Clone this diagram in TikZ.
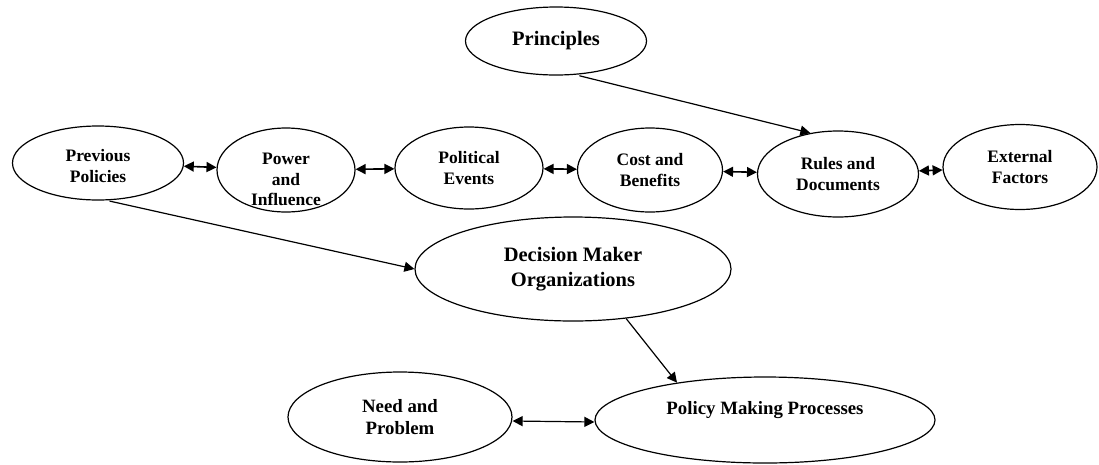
\documentclass[tikz,border=0pt]{standalone}
\usepackage{fontspec}
\setmainfont{Liberation Serif}
\usetikzlibrary{arrows.meta,shapes.geometric}

\begin{document}
\begin{tikzpicture}[
    x=1pt, y=-1pt,
    inner sep=0pt, %ellipse size comes from minimum width/height
    ell/.style={ellipse,draw=black,line width=1.2pt,align=center},
    rtxt/.style={font=\fontsize{17.5}{20.5}\selectfont\bfseries,align=center},
    ltxt/.style={font=\fontsize{18.8}{22}\selectfont\bfseries,align=center},
    btxt/.style={font=\fontsize{20.5}{25}\selectfont\bfseries,align=center},
    dbl/.style={<->,line width=1.6pt},
    sgl/.style={->,line width=1.2pt},
    >={Triangle[length=10pt,width=10pt]},
    ]
    \useasboundingbox (0,0) rectangle (1099,464);

    %Principles
    \node[ell,btxt,minimum width=181pt,minimum height=68pt] (prin) at (556,41) {Principles};

    %row of factors
    \node[ell,minimum width=171pt,minimum height=74pt] (prev) at (98,163) {};
    \node[rtxt] (prevtxt) at (98,166) {Previous\\Policies};
    \node[ell,minimum width=138pt,minimum height=84pt] (power) at (286,170) {};
    \node[rtxt] (powertxt) at (286,179.5) {Power\\and\\Influence};
    \node[ell,rtxt,minimum width=148pt,minimum height=82pt] (polit) at (469,168) {Political\\Events};
    \node[ell,rtxt,minimum width=145pt,minimum height=84pt] (cost) at (650,170) {Cost and\\Benefits};
    \node[ell,rtxt,minimum width=161pt,minimum height=86pt] (rules) at (838,174) {Rules and\\Documents};
    \node[ell,rtxt,minimum width=154pt,minimum height=85pt] (ext) at (1020,167) {External\\Factors};

    %Decision makers
    \node[ell,btxt,minimum width=316pt,minimum height=104pt] (dec) at (573,269) {Decision Maker\\Organizations};

    %bottom
    \node[ell,ltxt,minimum width=224pt,minimum height=90pt] (need) at (400,417) {Need and\\Problem};
    \node[ell,minimum width=340pt,minimum height=86pt] (pol) at (765,420) {};
    \node[ltxt] (poltxt) at (765,410.5) {Policy Making Processes};

    %links in the row
    \draw[dbl] (prev) -- (power);
    \draw[dbl] (power) -- (polit);
    \draw[dbl] (polit) -- (cost);
    \draw[dbl] (cost) -- (rules);
    \draw[dbl] (rules) -- (ext);

    %other links
    \draw[sgl,shorten <=4pt] (prin.-60) -- (rules.124);
    \draw[sgl,shorten <=3pt] (prev.-77) -- (dec.west);
    \draw[sgl] (dec.-43) -- (pol.157);
    \draw[dbl,line width=1.2pt] ([yshift=-4pt]need.east) -- ([yshift=-2pt]pol.west);

\end{tikzpicture}
\end{document}
